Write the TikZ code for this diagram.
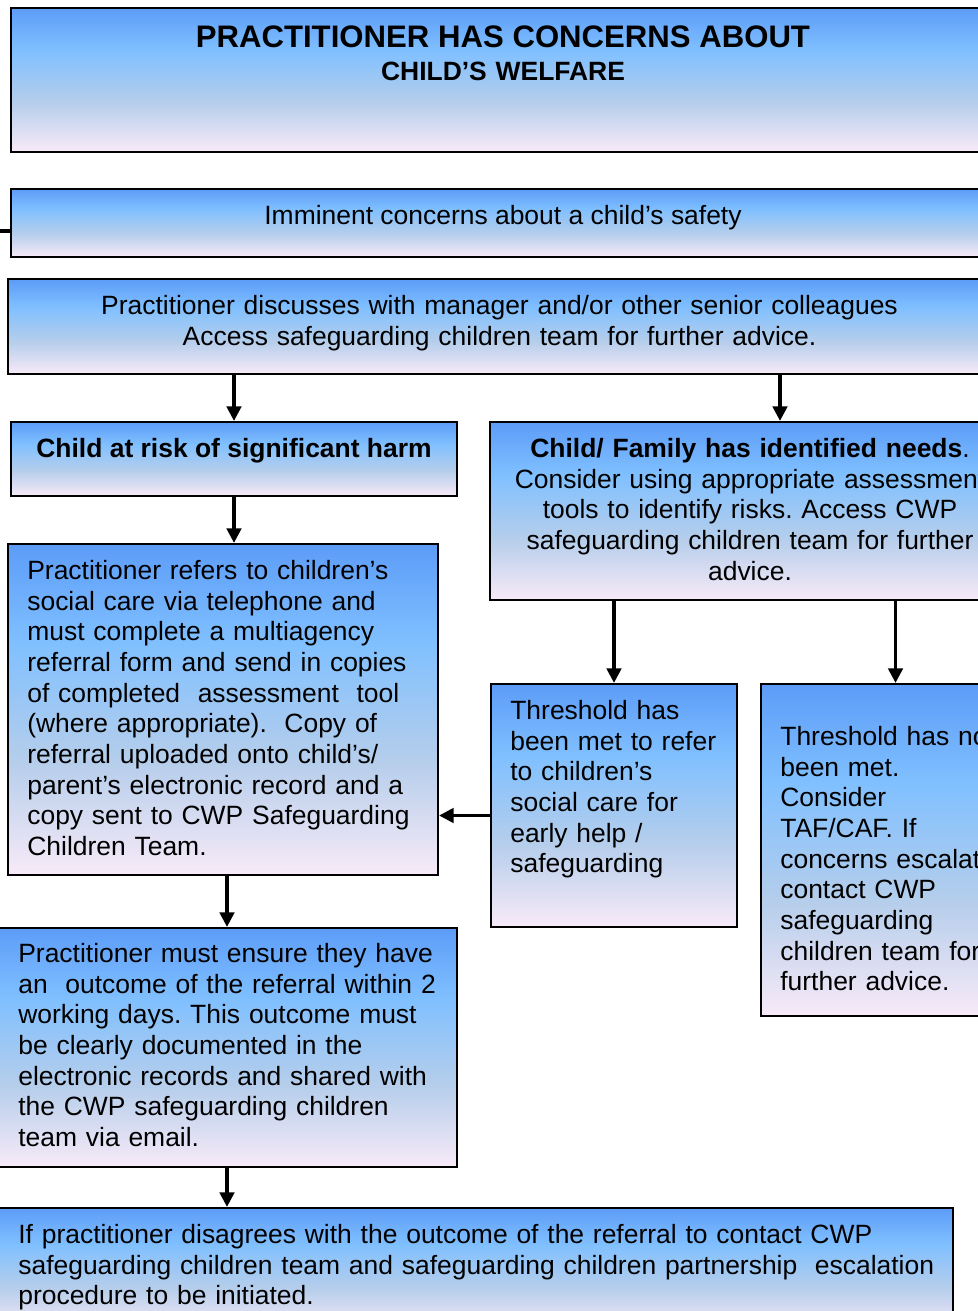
\documentclass[tikz,border=0pt]{standalone}
\usepackage{fontspec}
\setmainfont{Liberation Sans}
\usetikzlibrary{arrows.meta,positioning,fit}
\definecolor{gradtop}{RGB}{92,156,248}
\definecolor{gradlight}{RGB}{128,192,255}
\definecolor{gradgrey}{RGB}{182,206,235}
\definecolor{gradbot}{RGB}{248,234,248}
\pgfdeclareverticalshading{boxfill}{100bp}{color(0bp)=(gradbot); color(25bp)=(gradbot); color(42bp)=(gradgrey); color(60bp)=(gradlight); color(75bp)=(gradtop); color(100bp)=(gradtop)}
\tikzset{
  box/.style  = {draw, line width=1pt, shade, shading=boxfill, inner sep=0pt},
  txt/.style  = {inner sep=0pt, font=\fontsize{11.9}{13.8}\selectfont},
  link/.style = {-{Triangle[length=6.5pt,width=6.5pt]}, line width=1.4pt}
}
\frenchspacing
\begin{document}
\begin{tikzpicture}[x=0.45pt,y=-0.45pt]
    \useasboundingbox (0,0) rectangle (978,1311);
    \clip (0,0) rectangle (978,1311);

    % the boxes
    \node[box, fit={(11,8) (995,152)}] (title) {};
    \node[box, fit={(11,189) (995,257)}] (imminent) {};
    \node[box, fit={(8,279) (995,374)}] (discuss) {};
    \node[box, fit={(11,422) (457,496)}] (risk) {};
    \node[box, fit={(490,422) (1070,600)}] (needs) {};
    \node[box, fit={(8,544) (438,875)}] (refer) {};
    \node[box, fit={(491,684) (737,927)}] (met) {};
    \node[box, fit={(761,684) (1030,1016)}] (notmet) {};
    \node[box, fit={(-3,928) (457,1167)}] (outcome) {};
    \node[box, fit={(-3,1208) (953,1330)}] (disagree) {};

    % the texts
    \node[txt, anchor=base, text width=420pt, align=center] (titleT) at ([shift={(0,41)}]title.north)
      {{\fontsize{14}{16}\selectfont\bfseries PRACTITIONER HAS CONCERNS ABOUT}\\[0.8pt]
       {\bfseries CHILD’S WELFARE}};
    \node[txt, anchor=base] (imminentT) at ([shift={(0,36.5)}]imminent.north)
      {Imminent concerns about a child’s safety};
    \node[txt, anchor=base, text width=420pt, align=center] (discussT) at ([shift={(-2,36.5)}]discuss.north)
      {Practitioner discusses with manager and/or other senior colleagues\\
       Access safeguarding children team for further advice.};
    \node[txt, anchor=base] (riskT) at ([shift={(0,36.5)}]risk.north)
      {\bfseries Child at risk of significant harm};
    \node[txt, anchor=base, text width=240pt, align=center] (needsT) at ([shift={(-30,36.5)}]needs.north)
      {{\bfseries Child/ Family has identified needs}.\\
       Consider using appropriate assessment\\
       tools to identify risks. Access CWP\\
       safeguarding children team for further\\
       advice.};
    \node[txt, anchor=base west, text width=200pt, align=left] (referT) at ([shift={(20,36.5)}]refer.north west)
      {Practitioner refers to children’s\\
       social care via telephone and\\
       must complete a multiagency\\
       referral form and send in copies\\
       of completed\ \ assessment\ \ tool\\
       (where appropriate).\ \ Copy of\\
       referral uploaded onto child’s/\\
       parent’s electronic record and a\\
       copy sent to CWP Safeguarding\\
       Children Team.};
    \node[txt, anchor=base west, text width=105pt, align=left] (metT) at ([shift={(20,36.5)}]met.north west)
      {Threshold has\\
       been met to refer\\
       to children’s\\
       social care for\\
       early help /\\
       safeguarding};
    \node[txt, anchor=base west, text width=130pt, align=left] (notmetT) at ([shift={(20,62.5)}]notmet.north west)
      {Threshold has not\\
       been met.\\
       Consider\\
       TAF/CAF. If\\
       concerns escalate\\
       contact CWP\\
       safeguarding\\
       children team for\\
       further advice.};
    \node[txt, anchor=base west, text width=200pt, align=left] (outcomeT) at ([shift={(22,35.5)}]outcome.north west)
      {Practitioner must ensure they have\\
       an\ \ outcome of the referral within 2\\
       working days. This outcome must\\
       be clearly documented in the\\
       electronic records and shared with\\
       the CWP safeguarding children\\
       team via email.};
    \node[txt, anchor=base west, text width=430pt, align=left] (disagreeT) at ([shift={(22,36.5)}]disagree.north west)
      {If practitioner disagrees with the outcome of the referral to contact CWP\\
       safeguarding children team and safeguarding children partnership\ \ escalation\\
       procedure to be initiated.};

    % the arrows
    \coordinate (esc) at (-5,231);
    \draw[line width=1.4pt] (esc) -- (esc -| imminent.west);
    \draw[link] (risk.north |- discuss.south) -- (risk.north);
    \draw[link] (needs.north |- discuss.south) -- (needs.north);
    \draw[link] (risk.south) -- (risk.south |- refer.north);
    \draw[link] (met.north |- needs.south) -- (met.north);
    \draw[link] (notmet.north |- needs.south) -- (notmet.north);
    \draw[link] ([shift={(0,10)}]met.west) -- ([shift={(0,10)}]met.west -| refer.east);
    \draw[link] (outcome.north |- refer.south) -- (outcome.north);
    \draw[link] (outcome.south) -- (outcome.south |- disagree.north);
\end{tikzpicture}
\end{document}
